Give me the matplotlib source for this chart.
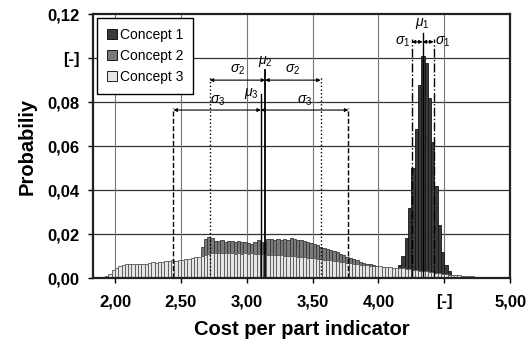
import numpy as np
import matplotlib
matplotlib.use("Agg")
import matplotlib.pyplot as plt
from matplotlib.patches import Patch

plt.rcParams['font.family'] = ['Liberation Sans', 'DejaVu Sans']
plt.rcParams['mathtext.fontset'] = 'custom'
plt.rcParams['mathtext.it'] = 'Liberation Sans:italic'
plt.rcParams['mathtext.rm'] = 'Liberation Sans'

# ---------------- data ----------------
bin_width = 0.025

concept1_start = 4.125
concept1 = [0.003, 0.006, 0.010, 0.018, 0.032, 0.050, 0.068, 0.088, 0.101,
            0.098, 0.082, 0.062, 0.042, 0.024, 0.012, 0.006, 0.003, 0.0015, 0.0005]

concept2_start = 2.45
concept2 = [0.0003, 0.0006, 0.0010, 0.0015, 0.0025, 0.0035, 0.0050, 0.0090,
            0.0140, 0.0178, 0.0185, 0.0182, 0.0168, 0.0170, 0.0172, 0.0165,
            0.0170, 0.0168, 0.0166, 0.0167, 0.0163, 0.0165, 0.0160, 0.0155,
            0.0166, 0.0172, 0.0165, 0.0160, 0.0178, 0.0177, 0.0172, 0.0176,
            0.0174, 0.0178, 0.0175, 0.0180, 0.0176, 0.0172, 0.0174, 0.0168,
            0.0165, 0.0160, 0.0155, 0.0150, 0.0143, 0.0138, 0.0132, 0.0128,
            0.0122, 0.0117, 0.0110, 0.0105, 0.0098, 0.0092, 0.0086, 0.0080,
            0.0075, 0.0070, 0.0066, 0.0062, 0.0058, 0.0054, 0.0050, 0.0047,
            0.0044, 0.0041, 0.0038, 0.0036, 0.0034, 0.0032, 0.0030, 0.0028,
            0.0026, 0.0025, 0.0023, 0.0022, 0.0020, 0.0019, 0.0017, 0.0016,
            0.0015, 0.0014, 0.0013, 0.0012, 0.0011, 0.0010, 0.0009, 0.0008,
            0.0007, 0.0006, 0.0005, 0.0004, 0.0003, 0.0002, 0.0002, 0.0001,
            0.0001, 0.0001]

concept3_start = 1.90
concept3 = [0.0005, 0.0010, 0.0020, 0.0035, 0.0045, 0.0053, 0.0060, 0.0064,
            0.0064, 0.0062, 0.0065, 0.0063, 0.0066, 0.0064,
            0.0068, 0.0072, 0.0070, 0.0074, 0.0073, 0.0076,
            0.0078, 0.0080, 0.0079, 0.0083, 0.0082, 0.0086,
            0.0088, 0.0092, 0.0095, 0.0098, 0.0102, 0.0106,
            0.0110, 0.0115, 0.0114, 0.0116, 0.0113, 0.0115,
            0.0112, 0.0114, 0.0110, 0.0112, 0.0111, 0.0113,
            0.0110, 0.0112, 0.0109, 0.0111, 0.0108, 0.0110,
            0.0107, 0.0105, 0.0106, 0.0104, 0.0103, 0.0102,
            0.0101, 0.0100, 0.0099, 0.0098, 0.0096, 0.0095,
            0.0093, 0.0091, 0.0090, 0.0088, 0.0086, 0.0084,
            0.0082, 0.0080, 0.0078, 0.0076, 0.0073, 0.0071,
            0.0069, 0.0067, 0.0065, 0.0063, 0.0061, 0.0060,
            0.0058, 0.0057, 0.0055, 0.0054, 0.0053, 0.0052,
            0.0050, 0.0049, 0.0048, 0.0046, 0.0045, 0.0044,
            0.0042, 0.0040, 0.0038, 0.0036, 0.0034, 0.0032,
            0.0030, 0.0028, 0.0026, 0.0024, 0.0022, 0.0020,
            0.0018, 0.0016, 0.0014, 0.0013, 0.0012, 0.0011,
            0.0010, 0.0009, 0.0008, 0.0007, 0.0006, 0.0005,
            0.0004, 0.0003, 0.0002, 0.0001]

labels = ["Concept 1", "Concept 2", "Concept 3"]

# statistics (mean, std)
mu1, sigma1 = 4.336, 0.083
mu2, sigma2 = 3.140, 0.421
mu3, sigma3 = 3.108, 0.664

x_ticks = [2.0, 2.5, 3.0, 3.5, 4.0, 4.5, 5.0]
x_ticklabels = ["2,00", "2,50", "3,00", "3,50", "4,00", "[-]", "5,00"]
y_ticks = [0.0, 0.02, 0.04, 0.06, 0.08, 0.10, 0.12]
y_ticklabels = ["0,00", "0,02", "0,04", "0,06", "0,08", "[-]", "0,12"]

# ---------------- figure ----------------
fig = plt.figure(figsize=(5.3, 3.45), dpi=100)
ax = fig.add_axes([0.1755, 0.194, 0.787, 0.765])

def draw(start, vals, fc, ec, z):
    xs = start + bin_width * np.arange(len(vals))
    ax.bar(xs, vals, width=bin_width, align='edge', facecolor=fc,
           edgecolor=ec, linewidth=0.6, zorder=z)

draw(concept1_start, concept1, '#3a3a3a', '#151515', 2)
draw(concept2_start, concept2, '#7a7a7a', '#383838', 3)
draw(concept3_start, concept3, '#e6e6e6', '#555555', 4)

ax.set_xlim(1.833, 5.0)
ax.set_ylim(0, 0.12)

# grid
for yv in y_ticks[1:-1]:
    ax.axhline(yv, color='#333333', lw=0.9, zorder=1)
for xv in x_ticks[:-1]:
    ax.axvline(xv, color='#777777', lw=0.8, zorder=1)

ax.set_xticks(x_ticks)
ax.set_xticklabels(x_ticklabels, fontweight='bold', fontsize=12)
ax.set_yticks(y_ticks)
ax.set_yticklabels(y_ticklabels, fontweight='bold', fontsize=12)
ax.tick_params(axis='y', direction='out', length=3.5, width=1, color='black', pad=6)
ax.tick_params(axis='x', direction='out', length=3.5, width=1, color='black', pad=8)
for s in ax.spines.values():
    s.set_linewidth(1.6)
    s.set_color('#222222')
    s.set_zorder(10)

ax.set_xlabel("Cost per part indicator", fontweight='bold', fontsize=14.5, labelpad=8)
ax.set_ylabel("Probabiliy", fontweight='bold', fontsize=14.5, labelpad=8)

# ---------------- annotations ----------------
def vline(x, top, ls, lw=1.0):
    ax.plot([x, x], [0, top], color='black', ls=ls, lw=lw, zorder=6)

def arrow(x0, x1, y):
    ax.annotate('', xy=(x1, y), xytext=(x0, y),
                arrowprops=dict(arrowstyle='<|-|>', color='black', lw=0.8,
                                mutation_scale=5, shrinkA=0, shrinkB=0), zorder=7)

fs = 10
# concept 2
vline(mu2, 0.0945, '-', 1.3)
vline(mu2 - sigma2, 0.092, ':', 1.0)
vline(mu2 + sigma2, 0.092, ':', 1.0)
arrow(mu2 - sigma2, mu2, 0.090)
arrow(mu2, mu2 + sigma2, 0.090)
ax.text(mu2 - sigma2 / 2, 0.0912, r'$\sigma_2$', ha='center', va='bottom', fontsize=fs, zorder=8)
ax.text(mu2 + sigma2 / 2, 0.0912, r'$\sigma_2$', ha='center', va='bottom', fontsize=fs, zorder=8)
ax.text(mu2, 0.0952, r'$\mu_2$', ha='center', va='bottom', fontsize=fs, zorder=8)

# concept 3
vline(mu3, 0.0836, '-', 1.0)
vline(mu3 - sigma3, 0.0773, '--', 1.0)
vline(mu3 + sigma3, 0.0773, '--', 1.0)
arrow(mu3 - sigma3, mu3, 0.0764)
arrow(mu3, mu3 + sigma3, 0.0764)
ax.text(mu3 - sigma3 / 2, 0.0772, r'$\sigma_3$', ha='center', va='bottom', fontsize=fs, zorder=8)
ax.text(mu3 + sigma3 / 2, 0.0772, r'$\sigma_3$', ha='center', va='bottom', fontsize=fs, zorder=8)
ax.text(mu3 - 0.02, 0.0805, r'$\mu_3$', ha='right', va='bottom', fontsize=fs, zorder=8)

# concept 1
vline(mu1, 0.1115, '-', 1.0)
vline(mu1 - sigma1, 0.1085, '-.', 1.0)
vline(mu1 + sigma1, 0.1085, '-.', 1.0)
arrow(mu1 - sigma1, mu1, 0.1074)
arrow(mu1, mu1 + sigma1, 0.1074)
ax.text(mu1 - sigma1 - 0.012, 0.1074, r'$\sigma_1$', ha='right', va='center', fontsize=fs, zorder=8)
ax.text(mu1 + sigma1 + 0.012, 0.1074, r'$\sigma_1$', ha='left', va='center', fontsize=fs, zorder=8)
ax.text(mu1, 0.1122, r'$\mu_1$', ha='center', va='bottom', fontsize=fs, zorder=8)

# legend
handles = [Patch(facecolor='#3a3a3a', edgecolor='black', lw=0.6),
           Patch(facecolor='#7a7a7a', edgecolor='black', lw=0.6),
           Patch(facecolor='#e6e6e6', edgecolor='black', lw=0.6)]
leg = ax.legend(handles, labels, loc='upper left', bbox_to_anchor=(0.0, 1.0),
                fontsize=10, frameon=True, fancybox=False, framealpha=1,
                edgecolor='black', handlelength=0.7, handleheight=0.7,
                handletextpad=0.25, borderpad=0.7, labelspacing=0.5,
                borderaxespad=0.3)
leg.get_frame().set_linewidth(1.0)
leg.set_zorder(11)

fig.savefig("out.png", dpi=100)
